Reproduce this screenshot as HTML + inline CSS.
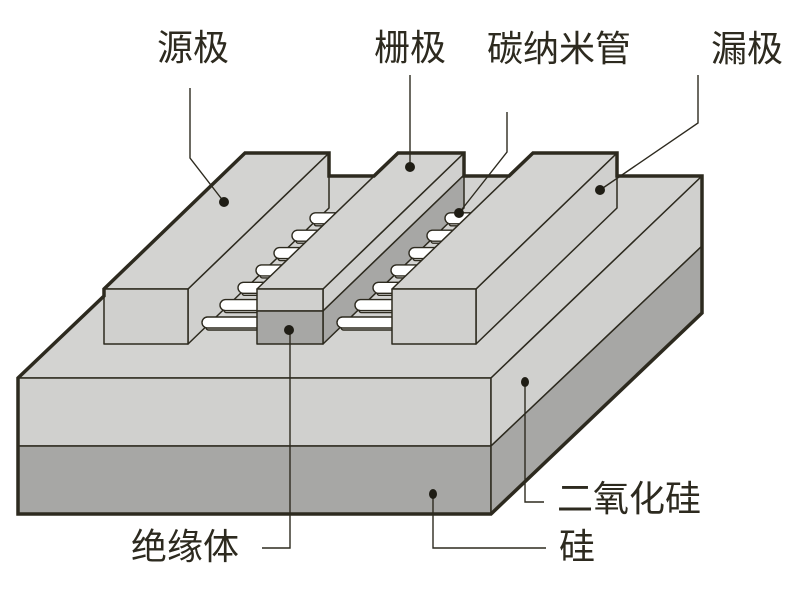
<!DOCTYPE html>
<html><head><meta charset="utf-8"><style>html,body{margin:0;padding:0;background:#fff;}svg{display:block}</style></head>
<body>
<svg width="800" height="600" viewBox="0 0 800 600" xmlns="http://www.w3.org/2000/svg">
<g stroke="#2d2a1f" stroke-width="1.5" stroke-linejoin="round">
<!-- slab -->
<polygon points="18,378 491,378 702,176 229,176" fill="#d3d3d1"/>
<rect x="18" y="378" width="473" height="68" fill="#d0d0ce"/>
<rect x="18" y="446" width="473" height="68" fill="#a7a7a5"/>
<polygon points="491,378 702,176 702,246 491,446" fill="#d0d0ce"/>
<polygon points="491,446 702,246 702,313 491,514" fill="#a7a7a5"/>

<!-- source -->
<polygon points="188,289 329,153 329,208 188,344" fill="#d0d0ce"/>
<polygon points="104,289 188,289 329,153 245,153" fill="#d3d3d1"/>
<rect x="104" y="289" width="84" height="55" fill="#d0d0ce"/>

<!-- nanotubes set 1 -->
<g stroke-width="1.4">
<rect x="206" y="325" width="90" height="5" rx="2.5" fill="#eeeeec"/><rect x="202" y="317" width="90" height="11" rx="5.5" fill="#fff"/>
<rect x="224" y="307.6" width="90" height="5" rx="2.5" fill="#eeeeec"/><rect x="220" y="299.6" width="90" height="11" rx="5.5" fill="#fff"/>
<rect x="242" y="290.3" width="90" height="5" rx="2.5" fill="#eeeeec"/><rect x="238" y="282.3" width="90" height="11" rx="5.5" fill="#fff"/>
<rect x="260" y="272.9" width="90" height="5" rx="2.5" fill="#eeeeec"/><rect x="256" y="264.9" width="90" height="11" rx="5.5" fill="#fff"/>
<rect x="278" y="255.6" width="90" height="5" rx="2.5" fill="#eeeeec"/><rect x="274" y="247.6" width="90" height="11" rx="5.5" fill="#fff"/>
<rect x="296" y="238.2" width="90" height="5" rx="2.5" fill="#eeeeec"/><rect x="292" y="230.2" width="90" height="11" rx="5.5" fill="#fff"/>
<rect x="314" y="220.8" width="90" height="5" rx="2.5" fill="#eeeeec"/><rect x="310" y="212.8" width="90" height="11" rx="5.5" fill="#fff"/>
</g>

<!-- gate -->
<polygon points="323,289 464,153 464,175 323,311" fill="#d0d0ce"/>
<polygon points="323,311 464,175 464,208 323,344" fill="#a7a7a5"/>
<polygon points="257,289 323,289 464,153 398,153" fill="#d3d3d1"/>
<rect x="257" y="289" width="66" height="22" fill="#d0d0ce"/>
<rect x="257" y="311" width="66" height="33" fill="#a7a7a5"/>

<!-- nanotubes set 2 -->
<g stroke-width="1.4">
<rect x="341" y="325" width="90" height="5" rx="2.5" fill="#eeeeec"/><rect x="337" y="317" width="90" height="11" rx="5.5" fill="#fff"/>
<rect x="359" y="307.6" width="90" height="5" rx="2.5" fill="#eeeeec"/><rect x="355" y="299.6" width="90" height="11" rx="5.5" fill="#fff"/>
<rect x="377" y="290.3" width="90" height="5" rx="2.5" fill="#eeeeec"/><rect x="373" y="282.3" width="90" height="11" rx="5.5" fill="#fff"/>
<rect x="395" y="272.9" width="90" height="5" rx="2.5" fill="#eeeeec"/><rect x="391" y="264.9" width="90" height="11" rx="5.5" fill="#fff"/>
<rect x="413" y="255.6" width="90" height="5" rx="2.5" fill="#eeeeec"/><rect x="409" y="247.6" width="90" height="11" rx="5.5" fill="#fff"/>
<rect x="431" y="238.2" width="90" height="5" rx="2.5" fill="#eeeeec"/><rect x="427" y="230.2" width="90" height="11" rx="5.5" fill="#fff"/>
<rect x="449" y="220.8" width="90" height="5" rx="2.5" fill="#eeeeec"/><rect x="445" y="212.8" width="90" height="11" rx="5.5" fill="#fff"/>
</g>

<!-- drain -->
<polygon points="476,289 617,153 617,208 476,344" fill="#d0d0ce"/>
<polygon points="392,289 476,289 617,153 533,153" fill="#d3d3d1"/>
<rect x="392" y="289" width="84" height="55" fill="#d0d0ce"/>
</g>

<!-- silhouette -->
<path d="M18,514 L18,378 L104,296 L104,289 L245,153 L329,153 L329,176 L374,176 L398,153 L464,153 L464,176 L509,176 L533,153 L617,153 L617,176 L702,176 L702,313 L491,514 Z" fill="none" stroke="#2d2a1f" stroke-width="3.5" stroke-linejoin="miter"/>

<!-- label leader lines -->
<g fill="none" stroke="#2d2a1f" stroke-width="1.4">
<path d="M190,88 L190,158 L224,202"/>
<path d="M410,75 L410,167"/>
<path d="M507,112 L507,152 L459,213"/>
<path d="M698,75 L698,123 L600,190"/>
<path d="M525,382 L525,502 L544,502"/>
<path d="M433,494 L433,548 L546,548"/>
<path d="M290,330 L290,548 L262,548"/>
</g>
<g fill="#1f1d15">
<circle cx="224" cy="202" r="5"/>
<circle cx="410" cy="167" r="5"/>
<circle cx="459" cy="213" r="5"/>
<circle cx="600" cy="190" r="5"/>
<ellipse cx="525" cy="382" rx="4" ry="5"/>
<ellipse cx="433" cy="494" rx="4" ry="5"/>
<circle cx="289" cy="330" r="5"/>
</g>

<!-- labels -->
<g font-family="'Liberation Sans','Noto Sans CJK SC',sans-serif" font-size="36" fill="#2d2a1f">
<text x="157" y="60">源极</text>
<text x="374" y="60">栅极</text>
<text x="487" y="61">碳纳米管</text>
<text x="711" y="61">漏极</text>
<text x="557" y="511">二氧化硅</text>
<text x="559" y="559">硅</text>
<text x="131" y="559">绝缘体</text>
</g>
</svg>
</body></html>
